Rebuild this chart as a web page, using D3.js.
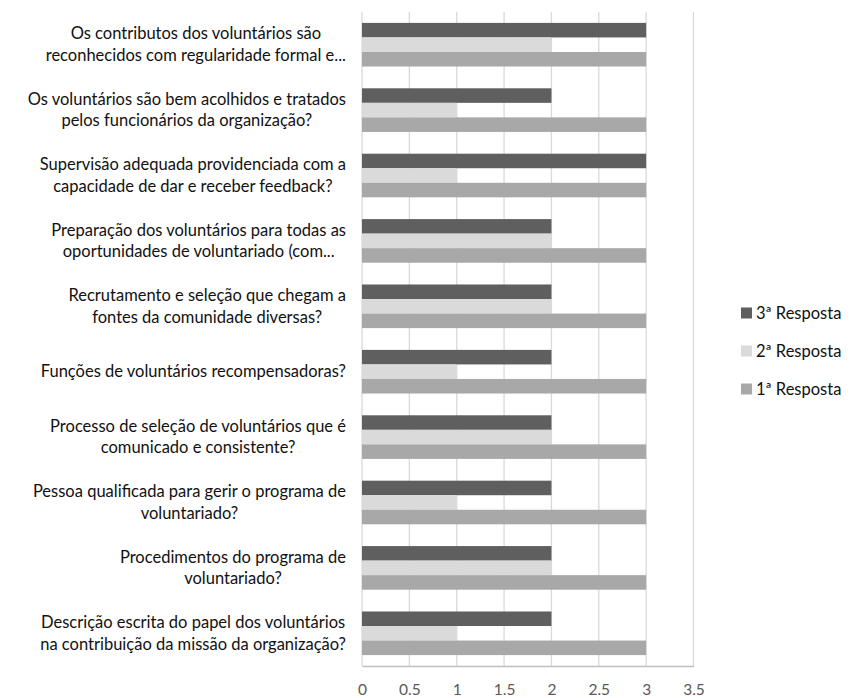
<!DOCTYPE html>
<html><head><meta charset="utf-8">
<script src="https://cdn.jsdelivr.net/npm/d3@7"></script>
<style>body{margin:0;background:#fff}svg{display:block}</style>
</head><body><svg id="c" width="858" height="698"></svg>
<script>
const categories = [
  ["Os contributos dos voluntários são","reconhecidos com regularidade formal e..."],
  ["Os voluntários são bem acolhidos e tratados","pelos funcionários da organização?"],
  ["Supervisão adequada providenciada com a","capacidade de dar e receber feedback?"],
  ["Preparação dos voluntários para todas as","oportunidades de voluntariado (com..."],
  ["Recrutamento e seleção que chegam a","fontes da comunidade diversas?"],
  ["Funções de voluntários recompensadoras?"],
  ["Processo de seleção de voluntários que é","comunicado e consistente?"],
  ["Pessoa qualificada para gerir o programa de","voluntariado?"],
  ["Procedimentos do programa de","voluntariado?"],
  ["Descrição escrita do papel dos voluntários","na contribuição da missão da organização?"]
];
const seriesNames = ["3ª Resposta","2ª Resposta","1ª Resposta"];
const resp3 = [3,2,3,2,2,2,2,2,2,2];
const resp2 = [2,1,1,2,2,1,2,1,2,1];
const resp1 = [3,3,3,3,3,3,3,3,3,3];
const colors = ["#5f5f5f","#dadada","#a8a8a8"];
const xTicks = [0,0.5,1,1.5,2,2.5,3,3.5];

const seriesVals = [resp3, resp2, resp1];
const svg = d3.select("#c");
const font = "Lato, 'Open Sans', sans-serif";
const x = d3.scaleLinear().domain([0,3.5]).range([362,693.5]);
const y = d3.scaleBand().domain(d3.range(categories.length)).range([12,666]).paddingInner(0.333).paddingOuter(0.1667);
const ys = d3.scaleBand().domain(d3.range(3)).range([0,y.bandwidth()]);

// gridlines
svg.append("g").selectAll("line").data(xTicks).join("line")
  .attr("x1",d=>x(d)).attr("x2",d=>x(d)).attr("y1",12).attr("y2",666)
  .attr("stroke","#d9d9d9").attr("stroke-width",1.3);

// bars
const groups = svg.append("g").selectAll("g").data(categories).join("g")
  .attr("transform",(d,i)=>`translate(0,${y(i)})`);
groups.selectAll("rect").data((d,i)=>seriesVals.map((s,k)=>({k,v:s[i]}))).join("rect")
  .attr("x",x(0)).attr("y",d=>ys(d.k)).attr("height",ys.bandwidth())
  .attr("width",d=>x(d.v)-x(0)).attr("fill",d=>colors[d.k]);

// x axis
const xa = svg.append("g").attr("transform","translate(0,666)")
  .call(d3.axisBottom(x).tickValues(xTicks).tickSize(0).tickPadding(18).tickFormat(d3.format("")));
xa.select(".domain").attr("stroke","#bfbfbf").attr("stroke-width",1.3);
xa.selectAll("text").attr("font-family",font).attr("font-size",15.5).attr("fill","#595959");

// y axis labels: lines centred, block right-aligned to the axis
const ya = svg.append("g");
const rightEdge = 346;
categories.forEach((lines,i)=>{
  const cy = y(i) + y.bandwidth()/2;
  const lh = 21.5;
  const t = ya.append("text").attr("text-anchor","middle").attr("font-family",font)
    .attr("font-size",16.5).attr("fill","#111");
  const spans = lines.map((ln,j)=>t.append("tspan")
      .attr("y", cy + (j-(lines.length-1)/2)*lh + 5.5).text(ln));
  const w = d3.max(spans, s=>s.node().getComputedTextLength());
  spans.forEach(s=>s.attr("x", rightEdge - w/2));
});

// legend
const lg = svg.append("g").selectAll("g").data(seriesNames).join("g")
  .attr("transform",(d,i)=>`translate(741,${313+i*38})`);
lg.append("rect").attr("x",0).attr("y",-5.5).attr("width",11).attr("height",11).attr("fill",(d,i)=>colors[i]);
lg.append("text").attr("x",15).attr("y",5.5).attr("font-family",font).attr("font-size",16.5)
  .attr("fill","#111").text(d=>d);
</script></body></html>
